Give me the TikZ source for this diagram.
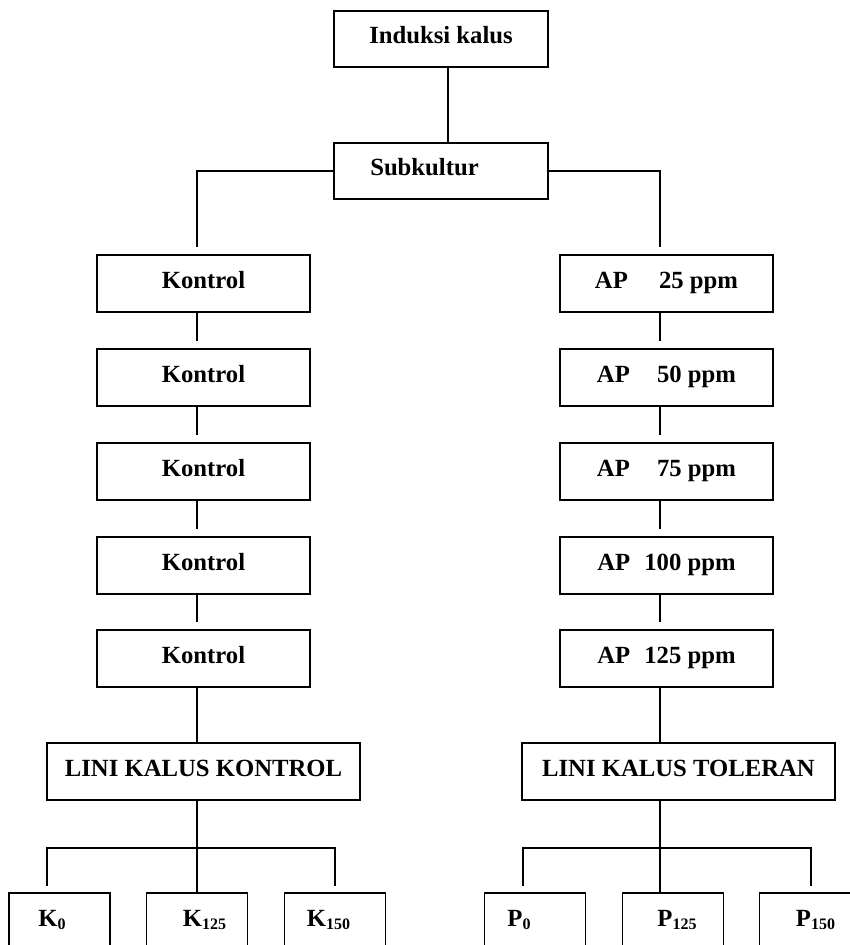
\documentclass[tikz,border=0pt]{standalone}
\usepackage{fontspec}
\setmainfont{Liberation Serif}
\newcommand\subn[1]{\raisebox{-3pt}{\fontsize{16}{16}\selectfont #1}}
\newcommand\padr[1]{\hspace{#1}\null}
\begin{document}
\begin{tikzpicture}[x=1pt,y=-1pt,
  box/.style={draw, line width=1.6pt, rectangle, minimum height=57pt,
    text height=17pt, text depth=8pt, inner sep=0pt,
    font=\fontsize{24.7}{28}\selectfont\bfseries},
  topbox/.style={box, minimum width=214pt, minimum height=56pt},
  midbox/.style={box, minimum width=213pt},
  linebox/.style={box, minimum width=313pt},
  leafbox/.style={box, minimum width=101pt},
  conn/.style={line width=1.4pt}]
\useasboundingbox (0,0) rectangle (850,945);
\fill[white] (0,0) rectangle (850,945);
\clip (0,0) rectangle (850,945);

% column coordinates
\coordinate (Mc) at (448,0);
\coordinate (Lc) at (197,0);
\coordinate (Rc) at (660,0);
\coordinate (busL) at (47,848);
\coordinate (busR) at (335,848);
\coordinate (busL2) at (523,848);
\coordinate (busR2) at (811,848);

% nodes
\node[topbox] (ind) at (441,39) {Induksi kalus};
\node[topbox] (sub) at (441,171) {Subkultur\padr{33pt}};

\node[midbox] (k1) at (203.5,283.5) {Kontrol};
\node[midbox] (k2) at (203.5,377.5) {Kontrol};
\node[midbox] (k3) at (203.5,471.5) {Kontrol};
\node[midbox] (k4) at (203.5,565.5) {Kontrol};
\node[midbox] (k5) at (203.5,658.5) {Kontrol};

\node[midbox] (a1) at (666.5,283.5) {AP\hspace{25pt} 25 ppm};
\node[midbox] (a2) at (666.5,377.5) {AP\hspace{21pt} 50 ppm};
\node[midbox] (a3) at (666.5,471.5) {AP\hspace{21pt} 75 ppm};
\node[midbox] (a4) at (666.5,565.5) {AP\hspace{8pt} 100 ppm};
\node[midbox] (a5) at (666.5,658.5) {AP\hspace{8pt} 125 ppm};

\node[linebox] (lk) at (203.5,771.5) {LINI KALUS KONTROL};
\node[linebox] (lt) at (678.5,771.5) {LINI KALUS TOLERAN};

\node[leafbox] (k0)   at (59.5,921.5) {K\subn{0}\padr{15pt}};
\node[leafbox] (k125) at (197,921.5)  {\hspace{15pt}K\subn{125}};
\node[leafbox] (k150) at (335,921.5)  {K\subn{150}\padr{13pt}};
\node[leafbox] (p0)   at (535,921.5)  {P\subn{0}\padr{32pt}};
\node[leafbox] (p125) at (673,921.5)  {\hspace{8pt}P\subn{125}};
\node[leafbox] (p150) at (810,921.5)  {\hspace{11pt}P\subn{150}};

% connectors
\draw[conn] (ind.south -| Mc) -- (sub.north -| Mc);
\draw[conn, shorten >=7pt] (sub.west) -| (k1.north -| Lc);
\draw[conn, shorten >=7pt] (sub.east) -| (a1.north -| Rc);

\draw[conn, shorten >=7pt] (k1.south -| Lc) -- (k2.north -| Lc);
\draw[conn, shorten >=7pt] (k2.south -| Lc) -- (k3.north -| Lc);
\draw[conn, shorten >=7pt] (k3.south -| Lc) -- (k4.north -| Lc);
\draw[conn, shorten >=7pt] (k4.south -| Lc) -- (k5.north -| Lc);
\draw[conn] (k5.south -| Lc) -- (lk.north -| Lc);

\draw[conn, shorten >=7pt] (a1.south -| Rc) -- (a2.north -| Rc);
\draw[conn, shorten >=7pt] (a2.south -| Rc) -- (a3.north -| Rc);
\draw[conn, shorten >=7pt] (a3.south -| Rc) -- (a4.north -| Rc);
\draw[conn, shorten >=7pt] (a4.south -| Rc) -- (a5.north -| Rc);
\draw[conn] (a5.south -| Rc) -- (lt.north -| Rc);

\draw[conn] (lk.south -| Lc) -- (k125.north -| Lc);
\draw[conn, shorten <=6pt, shorten >=6pt] (k0.north -| busL) -- (busL) -- (busR) -- (k150.north -| busR);

\draw[conn] (lt.south -| Rc) -- (p125.north -| Rc);
\draw[conn, shorten <=6pt, shorten >=6pt] (p0.north -| busL2) -- (busL2) -- (busR2) -- (p150.north -| busR2);
\end{tikzpicture}
\end{document}
